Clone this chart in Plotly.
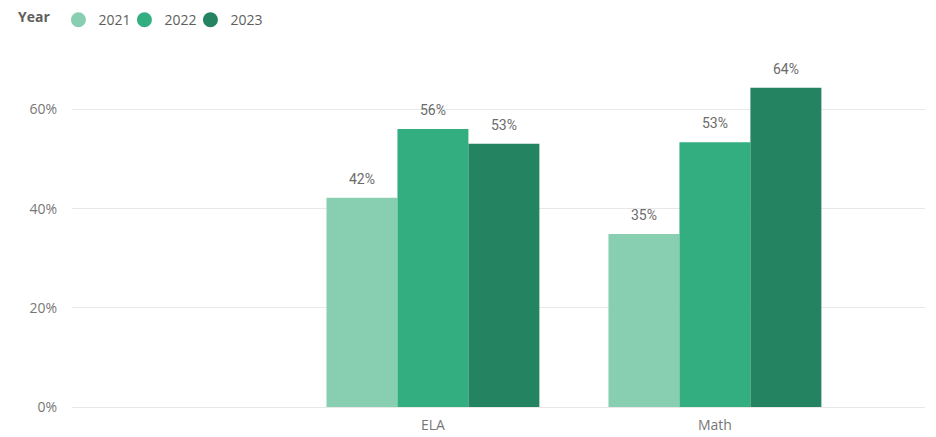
import plotly.graph_objects as go

categories = ["ELA", "Math"]
years = ["2021", "2022", "2023"]
values_2021 = [42.2, 34.9]
values_2022 = [56.1, 53.4]
values_2023 = [53.1, 64.4]
series = [values_2021, values_2022, values_2023]
colors = ["#88CFB2", "#33AE81", "#248360"]
y_ticks = [0, 20, 40, 60]
y_tick_labels = ["0%", "20%", "40%", "60%"]

label_tpl = ("<span style='font-size:14px'>%{text}</span><br>"
             "<span style='color:rgba(0,0,0,0)'>.</span>")

fig = go.Figure()
for yr, vals, col in zip(years, series, colors):
    fig.add_trace(go.Bar(
        x=categories, y=vals, name=yr, marker_color=col, marker_line_width=0,
        text=[f"{round(v)}%" for v in vals], texttemplate=label_tpl,
        textposition="outside",
        textfont=dict(family="Roboto", size=7, color="#6B6B6B"),
        cliponaxis=False, showlegend=False, hoverinfo="skip",
    ))
for yr, col in zip(years, colors):
    fig.add_trace(go.Scatter(
        x=[None], y=[None], mode="markers", name=yr,
        marker=dict(symbol="circle", size=15, color=col), showlegend=True,
    ))
# invisible spacer entry so the last legend label is not clipped
fig.add_trace(go.Scatter(
    x=[None], y=[None], mode="markers", name=" ",
    marker=dict(size=1, color="rgba(0,0,0,0)"), showlegend=True, hoverinfo="skip",
))

fig.update_layout(
    width=928, height=429,
    margin=dict(l=64, r=11, t=52, b=30, autoexpand=False),
    paper_bgcolor="white", plot_bgcolor="white",
    barmode="group", bargap=0.245, bargroupgap=0,
    font=dict(family="Open Sans", color="#777777"),
    legend=dict(
        orientation="h", x=-0.0657, xanchor="left", y=1.115, yanchor="middle",
        title=dict(text="<b>Year</b>", font=dict(size=14, color="#605E5C")),
        font=dict(size=14, color="#605E5C"), itemwidth=30, tracegroupgap=0,
        entrywidth=21, entrywidthmode="pixels",
    ),
    xaxis=dict(
        type="category", range=[-1.280, 1.745], showgrid=False, showline=False,
        ticks="", tickfont=dict(size=14, color="#777777"), ticklabelstandoff=8,
    ),
    yaxis=dict(
        range=[0, 70], tickvals=y_ticks, ticktext=y_tick_labels,
        showgrid=True, gridcolor="#E8E8E8", gridwidth=1,
        zeroline=True, zerolinecolor="#E8E8E8", zerolinewidth=1,
        tickfont=dict(size=14, color="#777777"), ticklabelstandoff=14,
    ),
)

fig.write_html("out.html")
